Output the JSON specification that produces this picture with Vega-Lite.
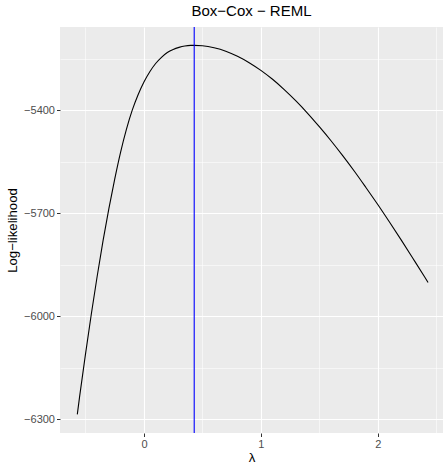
{
  "$schema": "https://vega.github.io/schema/vega-lite/v6.json",
  "width": 383,
  "height": 406,
  "autosize": {"type": "none"},
  "padding": {"left": 60, "top": 27, "right": 1, "bottom": 32},
  "background": "white",
  "title": {
    "text": "Box−Cox − REML",
    "font": "Liberation Sans",
    "fontSize": 15,
    "fontWeight": "normal",
    "color": "black",
    "anchor": "middle",
    "offset": 7
  },
  "datasets": {
    "curve": [
      {"lambda": -0.57, "loglik": -6286.5},
      {"lambda": -0.55, "loglik": -6234},
      {"lambda": -0.50, "loglik": -6111},
      {"lambda": -0.45, "loglik": -5994},
      {"lambda": -0.40, "loglik": -5884},
      {"lambda": -0.35, "loglik": -5781},
      {"lambda": -0.30, "loglik": -5687},
      {"lambda": -0.25, "loglik": -5601},
      {"lambda": -0.20, "loglik": -5523},
      {"lambda": -0.15, "loglik": -5456},
      {"lambda": -0.10, "loglik": -5400},
      {"lambda": -0.05, "loglik": -5355},
      {"lambda": 0.00, "loglik": -5318},
      {"lambda": 0.05, "loglik": -5288},
      {"lambda": 0.10, "loglik": -5264},
      {"lambda": 0.15, "loglik": -5246},
      {"lambda": 0.20, "loglik": -5232},
      {"lambda": 0.25, "loglik": -5223},
      {"lambda": 0.30, "loglik": -5217},
      {"lambda": 0.35, "loglik": -5213},
      {"lambda": 0.40, "loglik": -5211.2},
      {"lambda": 0.43, "loglik": -5211},
      {"lambda": 0.50, "loglik": -5212.2},
      {"lambda": 0.60, "loglik": -5218},
      {"lambda": 0.70, "loglik": -5228},
      {"lambda": 0.80, "loglik": -5243},
      {"lambda": 0.90, "loglik": -5261.5},
      {"lambda": 1.00, "loglik": -5284},
      {"lambda": 1.10, "loglik": -5310},
      {"lambda": 1.20, "loglik": -5340},
      {"lambda": 1.30, "loglik": -5373},
      {"lambda": 1.40, "loglik": -5409},
      {"lambda": 1.50, "loglik": -5448},
      {"lambda": 1.60, "loglik": -5489},
      {"lambda": 1.70, "loglik": -5532.5},
      {"lambda": 1.80, "loglik": -5578},
      {"lambda": 1.90, "loglik": -5626},
      {"lambda": 2.00, "loglik": -5675},
      {"lambda": 2.10, "loglik": -5726},
      {"lambda": 2.20, "loglik": -5778},
      {"lambda": 2.30, "loglik": -5831.5},
      {"lambda": 2.40, "loglik": -5885.5},
      {"lambda": 2.43, "loglik": -5902}
    ],
    "optimum": [
      {"lambda": 0.43}
    ]
  },
  "layer": [
    {
      "data": {"name": "curve"},
      "mark": {"type": "line", "opacity": 0},
      "encoding": {
        "x": {
          "field": "lambda", "type": "quantitative",
          "scale": {"domain": [-0.718, 2.558], "nice": false, "zero": false},
          "axis": {"orient": "bottom", "values": [-0.5, 0.5, 1.5, 2.5], "grid": true, "gridWidth": 0.55, "gridColor": "white", "labels": false, "ticks": false, "domain": false, "title": null}
        },
        "y": {
          "field": "loglik", "type": "quantitative",
          "scale": {"domain": [-6340.7, -5157.6], "nice": false, "zero": false},
          "axis": {"orient": "left", "values": [-5250, -5550, -5850, -6150], "grid": true, "gridWidth": 0.55, "gridColor": "white", "labels": false, "ticks": false, "domain": false, "title": null}
        }
      }
    },
    {
      "data": {"name": "curve"},
      "mark": {"type": "line", "color": "black", "strokeWidth": 1.1, "interpolate": "monotone"},
      "encoding": {
        "x": {
          "field": "lambda", "type": "quantitative",
          "axis": {"orient": "bottom", "values": [0, 1, 2], "grid": true, "gridWidth": 1.1, "gridColor": "white", "title": "λ", "format": "d"}
        },
        "y": {
          "field": "loglik", "type": "quantitative",
          "axis": {"orient": "left", "values": [-5400, -5700, -6000, -6300], "grid": true, "gridWidth": 1.1, "gridColor": "white", "title": "Log−likelihood", "format": "d"}
        }
      }
    },
    {
      "data": {"name": "optimum"},
      "mark": {"type": "rule", "color": "blue", "strokeWidth": 1.1},
      "encoding": {
        "x": {"field": "lambda", "type": "quantitative", "axis": null}
      }
    }
  ],
  "resolve": {"axis": {"x": "independent", "y": "independent"}},
  "config": {
    "view": {"fill": "#EBEBEB", "stroke": null},
    "axis": {
      "domain": false,
      "tickColor": "#333333",
      "tickSize": 3.5,
      "tickWidth": 1,
      "labelColor": "#4D4D4D",
      "labelFont": "Liberation Sans",
      "labelFontSize": 11,
      "labelPadding": 2,
      "titleFont": "Liberation Sans",
      "titleFontSize": 13.2,
      "titleFontWeight": "normal",
      "titleColor": "black"
    },
    "axisX": {"titlePadding": 2},
    "axisY": {"titlePadding": 4}
  }
}
